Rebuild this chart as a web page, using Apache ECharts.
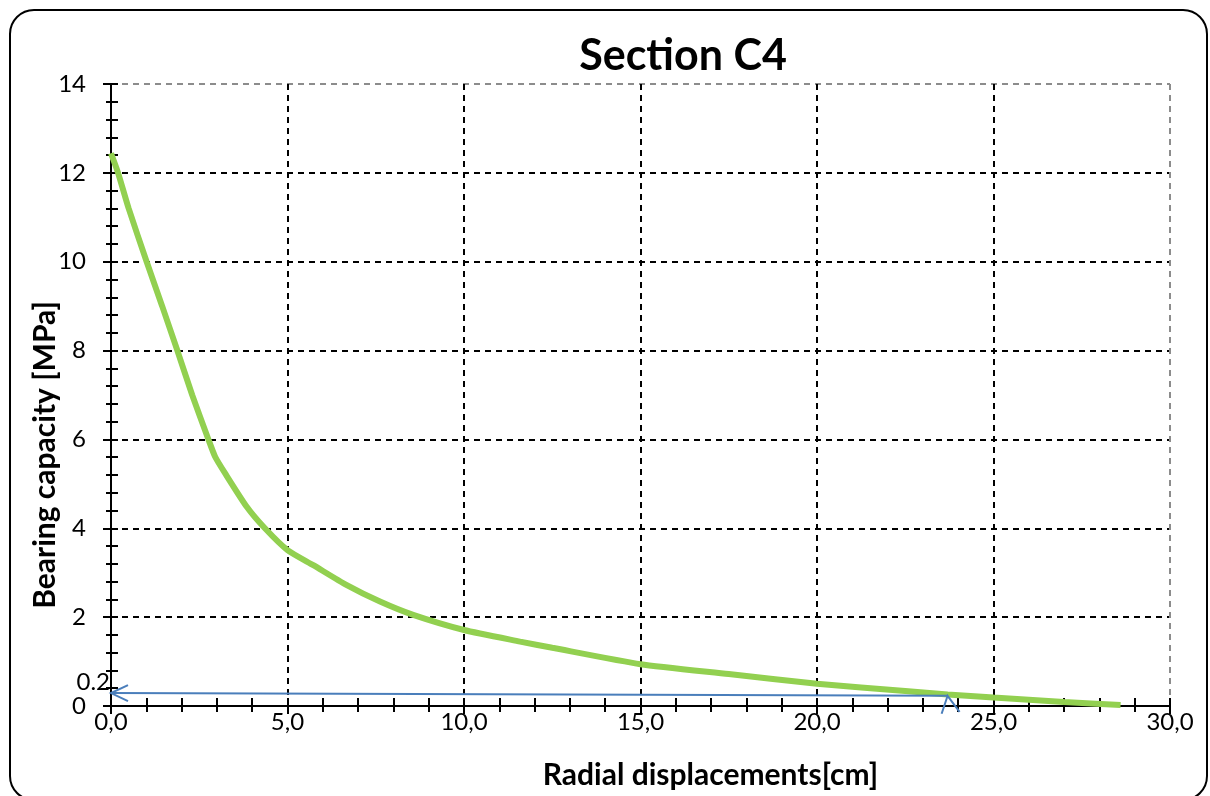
<!DOCTYPE html>
<html><head><meta charset="utf-8">
<script src="https://cdn.jsdelivr.net/npm/echarts@6/dist/echarts.min.js"></script>
<style>html,body{margin:0;padding:0;background:#fff}#c{width:1210px;height:796px}</style>
</head><body><div id="c"></div>
<script>
const titleText = 'Section C4';
const xAxisName = 'Radial displacements[cm]';
const yAxisName = 'Bearing capacity [MPa]';
const displacement = [0, 0.2, 0.5, 1.01, 1.45, 1.88, 2.3, 2.76, 2.95, 3.23, 3.84, 4.36, 5.0, 5.73, 6.68, 7.62, 8.56, 10.0, 11.59, 12.5, 15.0, 17.5, 20.0, 22.5, 23.7, 25.0, 27.0, 28.6];
const capacity =     [12.44, 12.0, 11.2, 10.0, 9.0, 8.0, 7.0, 6.0, 5.61, 5.24, 4.49, 4.0, 3.51, 3.17, 2.72, 2.35, 2.05, 1.71, 1.45, 1.31, 0.94, 0.72, 0.5, 0.34, 0.26, 0.19, 0.09, 0.02];
const arrowX = [0, 23.7];
const arrowY = [0.29, 0.23];
const extraLabel = '0.2';
const extraLabelY = 0.54;

const FONT = 'Lato, "Open Sans", sans-serif';
const chart = echarts.init(document.getElementById('c'));
const curve = displacement.map((x, i) => [x, capacity[i]]);
const ySplitColors = ['#000','#000','#000','#000','#000','#000','#000','#8c8c8c'];
const xSplitColors = ['#000','#000','#000','#000','#000','#000','#8c8c8c'];
const baseX = {type:'value', min:0, max:30, interval:5, position:'bottom'};
const baseY = {type:'value', min:0, max:14, interval:2, position:'left'};
chart.setOption({
  animation:false,
  graphic:[{type:'rect', shape:{x:10,y:10,width:1197,height:790,r:24}, style:{fill:null, stroke:'#000', lineWidth:2}, z:-10}],
  title:{text:titleText, left:678, top:30, textAlign:'center', textStyle:{fontFamily:FONT, fontSize:43, fontWeight:'bold', color:'#000'}},
  grid:{left:111, right:40, top:84, bottom:90},
  xAxis:[
    Object.assign({}, baseX, {
      name:xAxisName, nameLocation:'middle', nameGap:54,
      nameTextStyle:{fontFamily:FONT, fontSize:30, fontWeight:'bold', color:'#000', padding:[0,0,0,140]},
      axisLine:{onZero:false, lineStyle:{color:'#000', width:2}},
      axisTick:{show:true, length:8, lineStyle:{color:'#000', width:2}},
      minorTick:{show:true, splitNumber:5, length:6, lineStyle:{color:'#000', width:2}},
      axisLabel:{margin:4, fontFamily:FONT, fontSize:24, color:'#000', formatter:v=>v.toFixed(1).replace('.', ',')},
      splitLine:{show:true, lineStyle:{color:xSplitColors, type:[6,5], width:2}}
    }),
    Object.assign({}, baseX, {
      axisLine:{show:false}, axisLabel:{show:false}, splitLine:{show:false},
      axisTick:{show:true, inside:true, length:8, lineStyle:{color:'#000', width:2}},
      minorTick:{show:true, splitNumber:5, length:8, lineStyle:{color:'#000', width:2}}
    })
  ],
  yAxis:[
    Object.assign({}, baseY, {
      name:yAxisName, nameLocation:'middle', nameGap:51, nameMoveOverlap:false,
      nameTextStyle:{fontFamily:FONT, fontSize:30, fontWeight:'bold', color:'#000', padding:[0,120,0,0]},
      axisLine:{onZero:false, lineStyle:{color:'#000', width:2}},
      axisTick:{show:true, length:8, lineStyle:{color:'#000', width:2}},
      minorTick:{show:true, splitNumber:5, length:5, lineStyle:{color:'#000', width:2}},
      axisLabel:{margin:25, fontFamily:FONT, fontSize:24, color:'#000'},
      splitLine:{show:true, lineStyle:{color:ySplitColors, type:[6,5], width:2}}
    }),
    Object.assign({}, baseY, {
      axisLine:{show:false}, axisLabel:{show:false}, splitLine:{show:false},
      axisTick:{show:true, inside:true, length:7, lineStyle:{color:'#000', width:2}},
      minorTick:{show:true, splitNumber:5, length:7, lineStyle:{color:'#000', width:2}}
    })
  ],
  series:[
    {type:'line', xAxisIndex:0, yAxisIndex:0, data:curve, smooth:0.2, showSymbol:false,
     lineStyle:{color:'#92D050', width:6}, z:5},
    {type:'custom', xAxisIndex:0, yAxisIndex:0, data:[0], z:6, silent:true,
     renderItem:function(params, api){
       const p0 = api.coord([arrowX[0], arrowY[0]]);
       const p1 = api.coord([arrowX[1], arrowY[1]]);
       const lp = api.coord([0, extraLabelY]);
       const st = {stroke:'#4A7EBB', lineWidth:2, fill:null};
       return {type:'group', children:[
         {type:'polyline', shape:{points:[p0, p1]}, style:st},
         {type:'polyline', shape:{points:[[p0[0]+17,p0[1]-8],[p0[0],p0[1]],[p0[0]+17,p0[1]+8]]}, style:st},
         {type:'polyline', shape:{points:[[p1[0]-6,p1[1]+18],[p1[0],p1[1]],[p1[0]+12,p1[1]+16]]}, style:st},
         {type:'text', style:{x:lp[0]-1, y:lp[1], text:extraLabel, align:'right', verticalAlign:'middle', fontFamily:FONT, fontSize:24, fill:'#000'}}
       ]};
     }}
  ]
});
</script></body></html>
